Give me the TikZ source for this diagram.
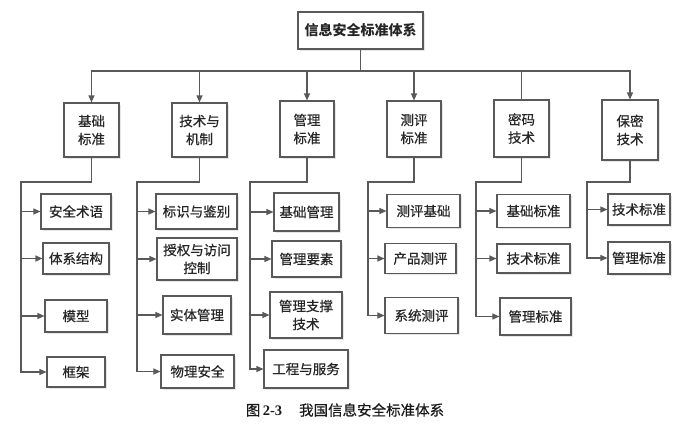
\documentclass[tikz,border=0pt]{standalone}
\usepackage{fontspec}
\setmainfont{Liberation Serif}
\newfontfamily\cjk{Noto Sans CJK SC}
\newfontfamily\cjkm{Noto Sans CJK SC}[FakeBold=0.5]
\usetikzlibrary{arrows.meta,shadows}

\tikzset{
  box/.style={draw=black!65, line width=1.1pt, fill=white, align=center,
    inner sep=0pt, text=black!85, font=\cjkm\fontsize{13.5}{18}\selectfont,
    drop shadow={opacity=0.2, shadow xshift=1.5pt, shadow yshift=-1.5pt}},
  link/.style={draw=black!65, line width=1.1pt},
  arr/.style={link, -{Triangle[length=7pt,width=6pt]}},
}

\begin{document}
\begin{tikzpicture}[x=1pt,y=-1pt]
\useasboundingbox (0,0) rectangle (692,428);

% root
\node[box, minimum width=125pt, minimum height=37pt,
  font=\cjk\bfseries\fontsize{14}{18}\selectfont] (top) at (360.5,30.5) {信息安全标准体系};

% first level
\node[box, minimum width=55pt, minimum height=54pt] (jc) at (91.5,130) {基础\\标准};
\node[box, minimum width=55pt, minimum height=54pt] (js) at (199.5,130) {技术与\\机制};
\node[box, minimum width=54pt, minimum height=56pt] (gl) at (307,129) {管理\\标准};
\node[box, minimum width=54pt, minimum height=56pt] (cp) at (414,129) {测评\\标准};
\node[box, minimum width=55pt, minimum height=57pt] (mm) at (521.5,128.5) {密码\\技术};
\node[box, minimum width=56pt, minimum height=60pt] (bm) at (630,130) {保密\\技术};

% bus from the root
\coordinate (bus) at (360.5,71);
\foreach \n in {jc,js,gl,cp,bm}
  \draw[arr] (top.south) -- (bus) -| (\n.north);
\draw[link] (top.south) -- (bus) -| (mm.north);

% 基础标准
\node[box, minimum width=70pt, minimum height=35pt] (a1) at (76,211.5) {安全术语};
\node[box, minimum width=66pt, minimum height=31pt] (a2) at (76,258.5) {体系结构};
\node[box, minimum width=62pt, minimum height=32pt] (a3) at (76,316) {模型};
\node[box, minimum width=58pt, minimum height=30pt] (a4) at (76,372) {框架};
\coordinate (ar) at (21,182);
\draw[arr] (jc.south) |- (ar) |- (a4.west);
\foreach \n in {a1,a2,a3}
  \draw[arr] (ar |- \n.west) -- (\n.west);

% 技术与机制
\node[box, minimum width=81pt, minimum height=35pt] (b1) at (196.5,211.5) {标识与鉴别};
\node[box, minimum width=80pt, minimum height=42pt] (b2) at (197,259) {授权与访问\\控制};
\node[box, minimum width=68pt, minimum height=38pt] (b3) at (197,315) {实体管理};
\node[box, minimum width=73pt, minimum height=33pt] (b4) at (197.5,371.5) {物理安全};
\coordinate (br) at (137,182);
\draw[arr] (js.south) |- (br) |- (b4.west);
\foreach \n in {b1,b2,b3}
  \draw[arr] (br |- \n.west) -- (\n.west);

% 管理标准
\node[box, minimum width=65pt, minimum height=38pt] (c1) at (306.5,212) {基础管理};
\node[box, minimum width=69pt, minimum height=36pt] (c2) at (306.5,259) {管理要素};
\node[box, minimum width=72pt, minimum height=46pt] (c3) at (306,315) {管理支撑\\技术};
\node[box, minimum width=84pt, minimum height=38pt] (c4) at (306,369) {工程与服务};
\coordinate (cr) at (250,182);
\draw[arr] (gl.south) |- (cr) |- (c4.west);
\foreach \n in {c1,c2,c3}
  \draw[arr] (cr |- \n.west) -- (\n.west);

% 测评标准
\node[box, minimum width=73pt, minimum height=33pt] (d1) at (423.5,211) {测评基础};
\node[box, minimum width=71pt, minimum height=30pt] (d2) at (420.5,258.5) {产品测评};
\node[box, minimum width=73pt, minimum height=36pt] (d3) at (421.5,315.5) {系统测评};
\coordinate (dr) at (368,182);
\draw[arr] (cp.south) |- (dr) |- (d3.west);
\foreach \n in {d1,d2}
  \draw[arr] (dr |- \n.west) -- (\n.west);

% 密码技术
\node[box, minimum width=73pt, minimum height=33pt] (e1) at (533.5,211) {基础标准};
\node[box, minimum width=73pt, minimum height=29pt] (e2) at (533.5,258.5) {技术标准};
\node[box, minimum width=71pt, minimum height=37pt] (e3) at (535.5,316.5) {管理标准};
\coordinate (er) at (476,182);
\draw[arr] (mm.south) |- (er) |- (e3.west);
\foreach \n in {e1,e2}
  \draw[arr] (er |- \n.west) -- (\n.west);

% 保密技术
\node[box, minimum width=62pt, minimum height=31pt] (f1) at (639,209.5) {技术标准};
\node[box, minimum width=62pt, minimum height=32pt] (f2) at (639,258) {管理标准};
\coordinate (fr) at (587,182);
\draw[arr] (bm.south) |- (fr) |- (f2.west);
\draw[arr] (fr |- f1.west) -- (f1.west);

% caption
\node[font=\fontsize{14.5}{18}\selectfont, text=black!90] (cap) at (345,410)
  {{\cjkm 图}\,\textbf{2-3}\hspace{17pt}{\cjkm 我国信息安全标准体系}};
\end{tikzpicture}
\end{document}
